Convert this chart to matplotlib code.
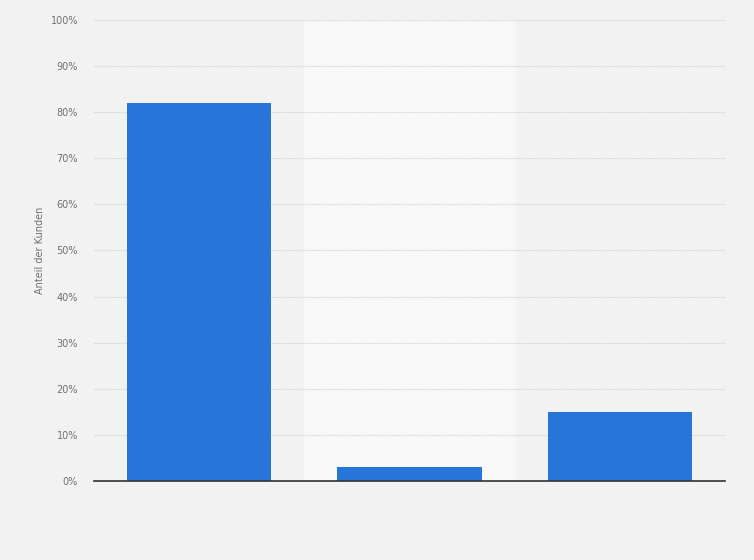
import matplotlib
matplotlib.use("Agg")
import matplotlib.pyplot as plt

categories = ["A", "B", "C"]
anteil = [82, 3, 15]
yticks = [0, 10, 20, 30, 40, 50, 60, 70, 80, 90, 100]
ylabel = "Anteil der Kunden"

fig = plt.figure(figsize=(7.54, 5.6), dpi=100)
fig.patch.set_facecolor("#f2f2f2")
ax = fig.add_axes([94 / 754, 79 / 560, 631 / 754, 461 / 560])
ax.set_facecolor("#f2f2f2")

x = list(range(len(categories)))
# lighter band behind the middle category
ax.axvspan(0.5, 1.5, color="#f8f8f8", zorder=0)

ax.bar(x, anteil, width=0.685, color="#2775d9", zorder=3)

ax.set_xlim(-0.5, len(categories) - 0.5)
ax.set_ylim(0, 100)
ax.set_yticks(yticks)
ax.set_yticklabels([f"{t}%" for t in yticks], fontsize=7, color="#707070")
ax.set_xticks([])
ax.tick_params(axis="y", length=0, pad=11.5)
ax.yaxis.grid(True, linestyle=(0, (1, 1)), color="#cfcfcf", linewidth=0.8, zorder=1)
ax.set_axisbelow(True)

for side in ["top", "right", "left"]:
    ax.spines[side].set_visible(False)
ax.spines["bottom"].set_color("#333333")
ax.spines["bottom"].set_linewidth(1.2)
ax.spines["bottom"].set_zorder(4)

ax.set_ylabel(ylabel, fontsize=7, color="#707070", labelpad=4)

fig.savefig("out.png", dpi=100, facecolor=fig.get_facecolor())
